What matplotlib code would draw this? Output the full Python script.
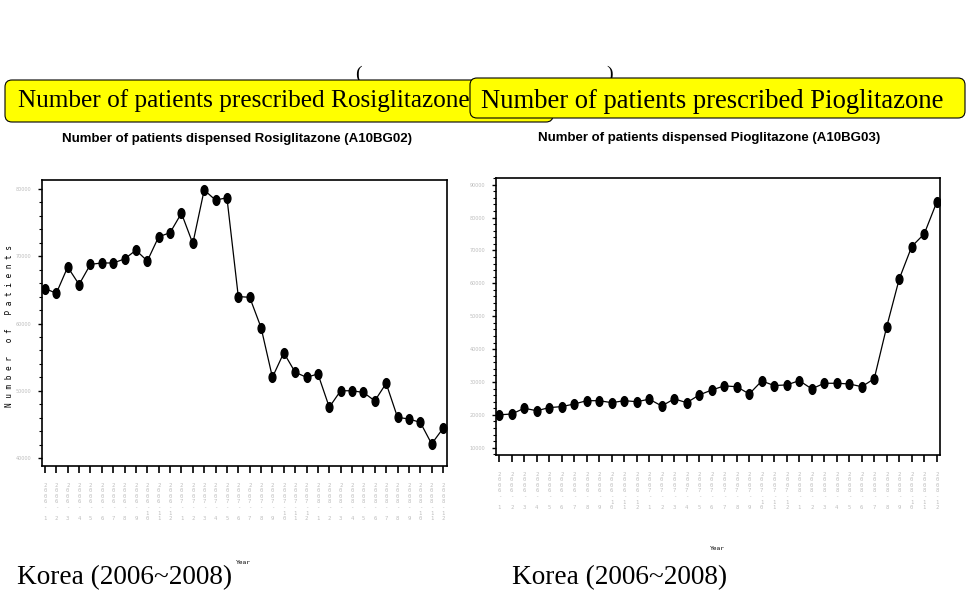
import matplotlib
matplotlib.use("Agg")
import matplotlib.pyplot as plt
from matplotlib.patches import FancyBboxPatch
from matplotlib.path import Path
from matplotlib.transforms import Affine2D
from matplotlib.ticker import MultipleLocator

# monthly counts, Jan 2006 .. Dec 2008
months = ["%d-%d" % (y, m) for y in (2006, 2007, 2008) for m in range(1, 13)]
rosi = [65200, 64500, 68400, 65800, 68800, 69000, 69000, 69600, 70900, 69300,
        72900, 73500, 76400, 71900, 79850, 78350, 78700, 64000, 63900, 59400,
        52000, 55650, 52750, 52000, 52500, 47550, 50000, 50000, 49750, 48500,
        51100, 46050, 45800, 45300, 42100, 44400]
pio = [20000, 20250, 22000, 21250, 22200, 22500, 23300, 24300, 24300, 23700,
       24300, 24000, 24750, 22700, 24850, 23700, 26050, 27550, 28800, 28550,
       26350, 30300, 28900, 29100, 30400, 27900, 29600, 29600, 29400, 28550,
       31000, 46850, 61350, 71200, 75050, 84700]

box_titles = ["Number of patients prescribed Rosiglitazone",
              "Number of patients prescribed Pioglitazone"]
chart_titles = ["Number of patients dispensed Rosiglitazone (A10BG02)",
                "Number of patients dispensed Pioglitazone (A10BG03)"]
footer = "Korea (2006~2008)"
ylab = "N u m b e r   o f   P a t i e n t s"

W, H = 967, 600
fig = plt.figure(figsize=(W / 100, H / 100), dpi=100)

def px_axes(l, t, r, b):
    return fig.add_axes([l / W, 1 - b / H, (r - l) / W, (b - t) / H])

# slide layer
bg = fig.add_axes([0, 0, 1, 1])
bg.set_xlim(0, W)
bg.set_ylim(H, 0)
bg.axis("off")

serif = "Liberation Serif"
bg.text(358, 74, "(", fontsize=14, family=serif, ha="center", va="center", zorder=1)
bg.text(610, 74, ")", fontsize=14, family=serif, ha="center", va="center", zorder=1)

bg.add_patch(FancyBboxPatch((5, 80), 548, 42, boxstyle="round,pad=0,rounding_size=7",
                            fc="#ffff00", ec="black", lw=0.8, zorder=2))
bg.add_patch(FancyBboxPatch((470, 78), 495, 40, boxstyle="round,pad=0,rounding_size=7",
                            fc="#ffff00", ec="black", lw=0.8, zorder=3))
bg.text(18, 101, box_titles[0], fontsize=18.2, family=serif, va="center", zorder=4)
bg.text(481, 101, box_titles[1], fontsize=19.2, family=serif, va="center", zorder=4)

bg.text(17, 578, footer, fontsize=19.6, family=serif, va="center")
bg.text(512, 578, footer, fontsize=19.6, family=serif, va="center")

bg.text(237, 139, chart_titles[0], fontsize=9.5, family="Liberation Sans", weight="bold",
        ha="center", va="center")
bg.text(709, 138, chart_titles[1], fontsize=9.5, family="Liberation Sans", weight="bold",
        ha="center", va="center")

bg.text(243, 562, "Year", fontsize=4.5, family="DejaVu Sans Mono", ha="center", va="center")
bg.text(717, 548, "Year", fontsize=4.5, family="DejaVu Sans Mono", ha="center", va="center")
bg.text(10, 326, ylab, fontsize=5.6, family="DejaVu Sans Mono", rotation=90,
        ha="center", va="center")

# stacked tick labels like the SAS output
def stack(lbl):
    y, m = lbl.split("-")
    rows = list(y) + ["-"] + list(m.rjust(2))
    return "\n".join(rows)

xlabels = [stack(m) for m in months]
dot = Path.unit_circle().transformed(Affine2D().scale(0.7, 1.0))

def draw(ax, vals, ylim, ymajor, xlim):
    ax.plot(range(len(vals)), vals, color="black", lw=0.9, marker=dot, ms=7,
            mfc="black", mec="black")
    ax.set_xlim(*xlim)
    ax.set_ylim(*ylim)
    ax.set_xticks(range(len(vals)))
    ax.set_xticklabels(xlabels, fontsize=4, family="DejaVu Sans Mono",
                       color="#bdbdbd", linespacing=1.15, va="top")
    ax.yaxis.set_major_locator(MultipleLocator(ymajor))
    ax.yaxis.set_minor_locator(MultipleLocator(2000))
    ax.tick_params(axis="x", length=5, width=1.2, pad=7)
    ax.tick_params(axis="y", which="major", length=3, width=1, pad=5,
                   labelsize=3.5, labelcolor="#bdbdbd")
    ax.tick_params(axis="y", which="minor", length=2, width=0.8)
    for s in ax.spines.values():
        s.set_linewidth(1.2)

ax1 = px_axes(42, 180, 447, 466)
draw(ax1, rosi, (38810, 81340), 10000, (-0.26, 35.35))

ax2 = px_axes(496, 178, 940, 455)
draw(ax2, pio, (7780, 92040), 10000, (-0.26, 35.26))

fig.savefig("out.png", dpi=100)
